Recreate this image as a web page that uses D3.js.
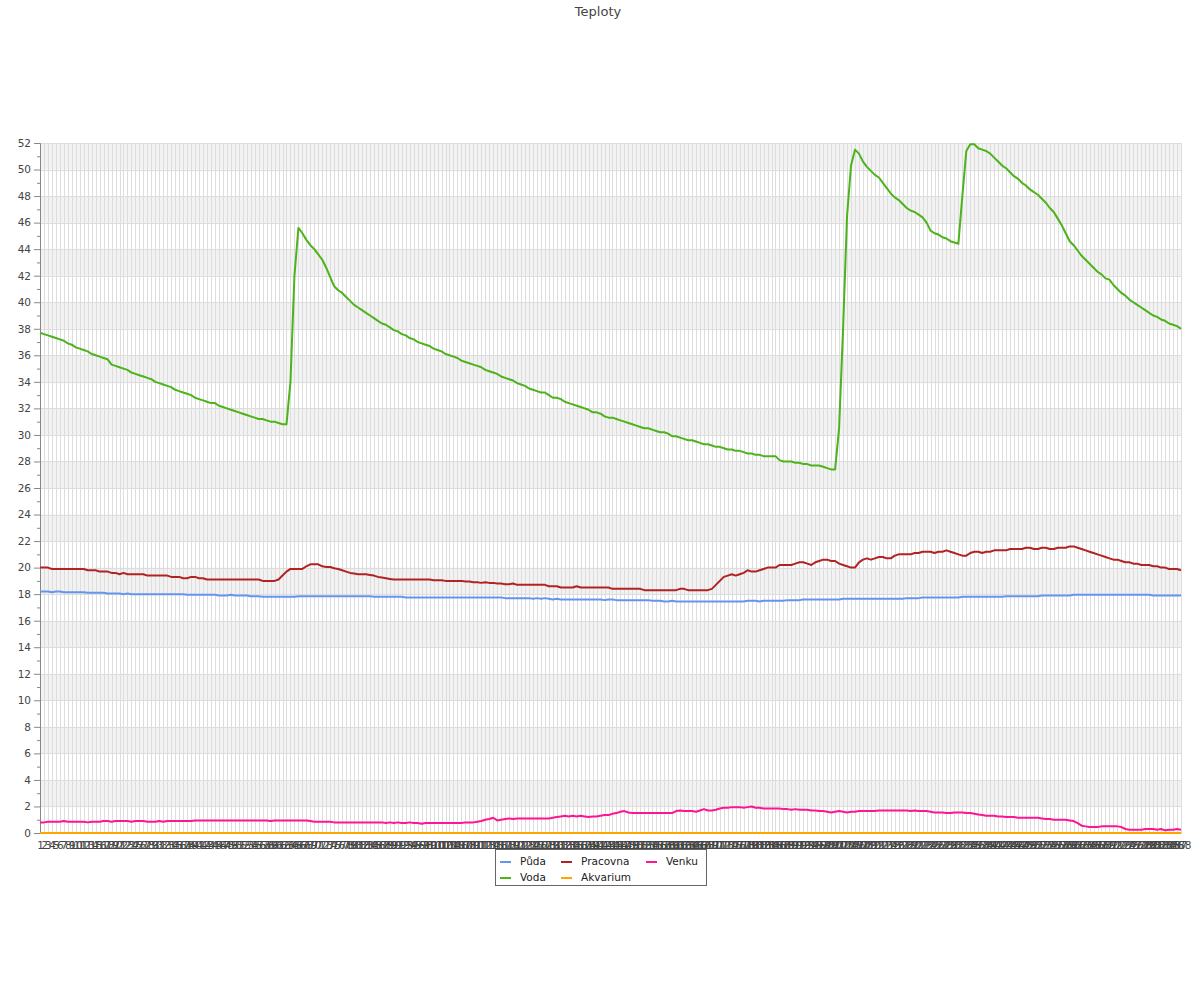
<!DOCTYPE html>
<html><head><meta charset="utf-8">
<script src="https://d3js.org/d3.v7.min.js"></script>
<style>body{margin:0;background:#fff;} svg{display:block;font-family:"DejaVu Sans",sans-serif;}</style>
</head><body><svg id="c" width="1200" height="1000"></svg>
<script>
const categories = [
1,2,3,4,5,6,7,8,9,10,11,12,13,14,15,16,17,18,19,20,21,22,23,24,25,26,27,28,29,30,
31,32,33,34,35,36,37,38,39,40,41,42,43,44,45,46,47,48,49,50,51,52,53,54,55,56,57,58,59,60,
61,62,63,64,65,66,67,68,69,70,71,72,73,74,75,76,77,78,79,80,81,82,83,84,85,86,87,88,89,90,
91,92,93,94,95,96,97,98,99,100,101,102,103,104,105,106,107,108,109,110,111,112,113,114,115,116,117,118,119,120,
121,122,123,124,125,126,127,128,129,130,131,132,133,134,135,136,137,138,139,140,141,142,143,144,145,146,147,148,149,150,
151,152,153,154,155,156,157,158,159,160,161,162,163,164,165,166,167,168,169,170,171,172,173,174,175,176,177,178,179,180,
181,182,183,184,185,186,187,188,189,190,191,192,193,194,195,196,197,198,199,200,201,202,203,204,205,206,207,208,209,210,
211,212,213,214,215,216,217,218,219,220,221,222,223,224,225,226,227,228,229,230,231,232,233,234,235,236,237,238,239,240,
241,242,243,244,245,246,247,248,249,250,251,252,253,254,255,256,257,258,259,260,261,262,263,264,265,266,267,268,269,270,
271,272,273,274,275,276,277,278,279,280,281,282,283,284,285,286,287,288];

const yTickValues = [0,2,4,6,8,10,12,14,16,18,20,22,24,26,28,30,32,34,36,38,40,42,44,46,48,50,52];

const seriesNames = ["Půda","Voda","Pracovna","Akvarium","Venku"];
const seriesColors = ["#6495ED","#4CB31A","#B22222","#FFA500","#FF1493"];

const puda = [
18.2,18.2,18.2,18.15,18.2,18.2,18.15,18.15,18.15,18.15,
18.15,18.15,18.1,18.1,18.1,18.1,18.1,18.05,18.05,18.05,
18.05,18.0,18.05,18.0,18.0,18.0,18.0,18.0,18.0,18.0,
18.0,18.0,18.0,18.0,18.0,18.0,18.0,17.95,17.95,17.95,
17.95,17.95,17.95,17.95,17.95,17.9,17.9,17.9,17.95,17.9,
17.9,17.9,17.9,17.85,17.85,17.85,17.8,17.8,17.8,17.8,
17.8,17.8,17.8,17.8,17.8,17.85,17.85,17.85,17.85,17.85,
17.85,17.85,17.85,17.85,17.85,17.85,17.85,17.85,17.85,17.85,
17.85,17.85,17.85,17.85,17.8,17.8,17.8,17.8,17.8,17.8,
17.8,17.8,17.75,17.75,17.75,17.75,17.75,17.75,17.75,17.75,
17.75,17.75,17.75,17.75,17.75,17.75,17.75,17.75,17.75,17.75,
17.75,17.75,17.75,17.75,17.75,17.75,17.75,17.7,17.7,17.7,
17.7,17.7,17.7,17.7,17.65,17.7,17.65,17.7,17.65,17.6,
17.65,17.6,17.6,17.6,17.6,17.6,17.6,17.6,17.6,17.6,
17.6,17.6,17.55,17.6,17.6,17.55,17.55,17.55,17.55,17.55,
17.55,17.55,17.55,17.55,17.5,17.5,17.5,17.45,17.45,17.5,
17.45,17.45,17.45,17.45,17.45,17.45,17.45,17.45,17.45,17.45,
17.45,17.45,17.45,17.45,17.45,17.45,17.45,17.45,17.5,17.5,
17.5,17.45,17.5,17.5,17.5,17.5,17.5,17.5,17.55,17.55,
17.55,17.55,17.6,17.6,17.6,17.6,17.6,17.6,17.6,17.6,
17.6,17.6,17.65,17.65,17.65,17.65,17.65,17.65,17.65,17.65,
17.65,17.65,17.65,17.65,17.65,17.65,17.65,17.65,17.7,17.7,
17.7,17.7,17.75,17.75,17.75,17.75,17.75,17.75,17.75,17.75,
17.75,17.75,17.8,17.8,17.8,17.8,17.8,17.8,17.8,17.8,
17.8,17.8,17.8,17.85,17.85,17.85,17.85,17.85,17.85,17.85,
17.85,17.85,17.9,17.9,17.9,17.9,17.9,17.9,17.9,17.9,
17.95,17.95,17.95,17.95,17.95,17.95,17.95,17.95,17.95,17.95,
17.95,17.95,17.95,17.95,17.95,17.95,17.95,17.95,17.95,17.95,
17.9,17.9,17.9,17.9,17.9,17.9,17.9,17.9];

const voda = [
37.7,37.6,37.5,37.4,37.3,37.2,37.1,36.9,36.8,36.6,
36.5,36.4,36.3,36.1,36.0,35.9,35.8,35.7,35.3,35.2,
35.1,35.0,34.9,34.7,34.6,34.5,34.4,34.3,34.2,34.0,
33.9,33.8,33.7,33.6,33.4,33.3,33.2,33.1,33.0,32.8,
32.7,32.6,32.5,32.4,32.4,32.2,32.1,32.0,31.9,31.8,
31.7,31.6,31.5,31.4,31.3,31.2,31.2,31.1,31.0,31.0,
30.9,30.8,30.8,34.0,42.0,45.6,45.2,44.7,44.3,44.0,
43.6,43.2,42.6,41.9,41.2,40.9,40.7,40.4,40.1,39.8,
39.6,39.4,39.2,39.0,38.8,38.6,38.4,38.3,38.1,37.9,
37.8,37.6,37.5,37.3,37.2,37.0,36.9,36.8,36.7,36.5,
36.4,36.3,36.1,36.0,35.9,35.8,35.6,35.5,35.4,35.3,
35.2,35.1,34.9,34.8,34.7,34.6,34.4,34.3,34.2,34.1,
33.9,33.8,33.7,33.5,33.4,33.3,33.2,33.2,33.0,32.8,
32.8,32.7,32.5,32.4,32.3,32.2,32.1,32.0,31.9,31.7,
31.7,31.6,31.4,31.3,31.3,31.2,31.1,31.0,30.9,30.8,
30.7,30.6,30.5,30.5,30.4,30.3,30.2,30.2,30.1,29.9,
29.9,29.8,29.7,29.6,29.6,29.5,29.4,29.3,29.3,29.2,
29.1,29.1,29.0,28.9,28.9,28.8,28.8,28.7,28.6,28.6,
28.5,28.5,28.4,28.4,28.4,28.4,28.1,28.0,28.0,28.0,
27.9,27.9,27.8,27.8,27.7,27.7,27.7,27.6,27.5,27.4,
27.4,30.5,38.0,46.5,50.3,51.5,51.2,50.6,50.2,49.9,
49.6,49.4,49.0,48.6,48.2,47.9,47.7,47.4,47.1,46.9,
46.8,46.6,46.4,46.0,45.4,45.2,45.1,44.9,44.8,44.6,
44.5,44.4,48.0,51.4,51.9,51.9,51.6,51.5,51.4,51.2,
50.9,50.6,50.3,50.1,49.8,49.5,49.3,49.0,48.8,48.5,
48.3,48.1,47.8,47.5,47.1,46.8,46.3,45.8,45.2,44.6,
44.3,43.9,43.5,43.2,42.9,42.6,42.3,42.1,41.8,41.7,
41.3,41.0,40.7,40.5,40.2,40.0,39.8,39.6,39.4,39.2,
39.0,38.9,38.7,38.6,38.4,38.3,38.2,38.0];

const pracovna = [
20.0,20.0,20.0,19.9,19.9,19.9,19.9,19.9,19.9,19.9,
19.9,19.9,19.8,19.8,19.8,19.7,19.7,19.7,19.6,19.6,
19.5,19.6,19.5,19.5,19.5,19.5,19.5,19.4,19.4,19.4,
19.4,19.4,19.4,19.3,19.3,19.3,19.2,19.2,19.3,19.3,
19.2,19.2,19.1,19.1,19.1,19.1,19.1,19.1,19.1,19.1,
19.1,19.1,19.1,19.1,19.1,19.1,19.0,19.0,19.0,19.0,
19.1,19.4,19.7,19.9,19.9,19.9,19.9,20.1,20.25,20.25,
20.25,20.1,20.05,20.05,19.95,19.9,19.8,19.7,19.6,19.55,
19.5,19.5,19.5,19.45,19.4,19.3,19.25,19.2,19.15,19.1,
19.1,19.1,19.1,19.1,19.1,19.1,19.1,19.1,19.1,19.05,
19.05,19.05,19.0,19.0,19.0,19.0,19.0,18.95,18.95,18.9,
18.9,18.85,18.9,18.85,18.85,18.8,18.8,18.75,18.75,18.8,
18.7,18.7,18.7,18.7,18.7,18.7,18.7,18.7,18.6,18.6,
18.6,18.5,18.5,18.5,18.5,18.6,18.5,18.5,18.5,18.5,
18.5,18.5,18.5,18.5,18.4,18.4,18.4,18.4,18.4,18.4,
18.4,18.4,18.3,18.3,18.3,18.3,18.3,18.3,18.3,18.3,
18.3,18.4,18.4,18.3,18.3,18.3,18.3,18.3,18.3,18.4,
18.7,19.0,19.3,19.4,19.5,19.4,19.5,19.6,19.8,19.7,
19.7,19.8,19.9,20.0,20.0,20.0,20.2,20.2,20.2,20.2,
20.3,20.4,20.4,20.3,20.2,20.4,20.5,20.6,20.6,20.5,
20.5,20.3,20.2,20.1,20.0,20.0,20.4,20.6,20.7,20.6,
20.7,20.8,20.8,20.7,20.7,20.9,21.0,21.0,21.0,21.0,
21.1,21.1,21.2,21.2,21.2,21.1,21.2,21.2,21.3,21.2,
21.1,21.0,20.9,20.9,21.1,21.2,21.2,21.1,21.2,21.2,
21.3,21.3,21.3,21.3,21.4,21.4,21.4,21.4,21.5,21.5,
21.4,21.4,21.5,21.5,21.4,21.4,21.5,21.5,21.5,21.6,
21.6,21.5,21.4,21.3,21.2,21.1,21.0,20.9,20.8,20.7,
20.6,20.6,20.5,20.4,20.4,20.3,20.3,20.2,20.2,20.2,
20.1,20.1,20.0,20.0,19.9,19.9,19.9,19.8];

const akvarium = [
0,0,0,0,0,0,0,0,0,0,0,0,0,0,0,0,0,0,0,0,0,0,0,0,0,0,0,0,0,0,
0,0,0,0,0,0,0,0,0,0,0,0,0,0,0,0,0,0,0,0,0,0,0,0,0,0,0,0,0,0,
0,0,0,0,0,0,0,0,0,0,0,0,0,0,0,0,0,0,0,0,0,0,0,0,0,0,0,0,0,0,
0,0,0,0,0,0,0,0,0,0,0,0,0,0,0,0,0,0,0,0,0,0,0,0,0,0,0,0,0,0,
0,0,0,0,0,0,0,0,0,0,0,0,0,0,0,0,0,0,0,0,0,0,0,0,0,0,0,0,0,0,
0,0,0,0,0,0,0,0,0,0,0,0,0,0,0,0,0,0,0,0,0,0,0,0,0,0,0,0,0,0,
0,0,0,0,0,0,0,0,0,0,0,0,0,0,0,0,0,0,0,0,0,0,0,0,0,0,0,0,0,0,
0,0,0,0,0,0,0,0,0,0,0,0,0,0,0,0,0,0,0,0,0,0,0,0,0,0,0,0,0,0,
0,0,0,0,0,0,0,0,0,0,0,0,0,0,0,0,0,0,0,0,0,0,0,0,0,0,0,0,0,0,
0,0,0,0,0,0,0,0,0,0,0,0,0,0,0,0,0,0];

const venku = [
0.8,0.8,0.85,0.85,0.85,0.85,0.9,0.85,0.85,0.85,
0.85,0.85,0.8,0.85,0.85,0.85,0.9,0.9,0.85,0.9,
0.9,0.9,0.9,0.85,0.9,0.9,0.9,0.85,0.85,0.85,
0.9,0.85,0.9,0.9,0.9,0.9,0.9,0.9,0.9,0.95,
0.95,0.95,0.95,0.95,0.95,0.95,0.95,0.95,0.95,0.95,
0.95,0.95,0.95,0.95,0.95,0.95,0.95,0.95,0.9,0.95,
0.95,0.95,0.95,0.95,0.95,0.95,0.95,0.95,0.9,0.85,
0.85,0.85,0.85,0.85,0.8,0.8,0.8,0.8,0.8,0.8,
0.8,0.8,0.8,0.8,0.8,0.8,0.8,0.75,0.8,0.75,
0.8,0.75,0.75,0.8,0.75,0.75,0.7,0.75,0.75,0.75,
0.75,0.75,0.75,0.75,0.75,0.75,0.75,0.8,0.8,0.8,
0.85,0.9,1.0,1.05,1.15,0.95,1.0,1.05,1.1,1.05,
1.1,1.1,1.1,1.1,1.1,1.1,1.1,1.1,1.1,1.15,
1.2,1.25,1.3,1.25,1.3,1.25,1.3,1.25,1.2,1.25,
1.25,1.3,1.35,1.35,1.45,1.5,1.6,1.65,1.55,1.5,
1.5,1.5,1.5,1.5,1.5,1.5,1.5,1.5,1.5,1.5,
1.65,1.7,1.65,1.65,1.65,1.6,1.7,1.8,1.7,1.7,
1.75,1.85,1.9,1.9,1.95,1.95,1.95,1.9,1.95,2.0,
1.9,1.9,1.85,1.85,1.85,1.85,1.85,1.8,1.8,1.75,
1.8,1.75,1.75,1.75,1.7,1.7,1.65,1.65,1.6,1.55,
1.6,1.65,1.6,1.55,1.6,1.6,1.65,1.65,1.65,1.65,
1.65,1.7,1.7,1.7,1.7,1.7,1.7,1.7,1.7,1.65,
1.7,1.65,1.65,1.65,1.6,1.55,1.55,1.55,1.5,1.5,
1.55,1.55,1.55,1.5,1.5,1.45,1.4,1.35,1.3,1.3,
1.3,1.25,1.25,1.2,1.2,1.2,1.15,1.15,1.15,1.15,
1.15,1.15,1.1,1.05,1.05,1.0,1.0,1.0,1.0,0.95,
0.9,0.75,0.55,0.5,0.45,0.45,0.45,0.5,0.5,0.5,
0.5,0.5,0.45,0.3,0.25,0.25,0.25,0.25,0.3,0.3,
0.3,0.25,0.3,0.2,0.25,0.25,0.3,0.25];

const seriesValues = [puda, voda, pracovna, akvarium, venku];

const svg = d3.select("#c");
const plotLeft = 40, plotRight = 1181, plotTop = 143, plotBottom = 833;
const x = d3.scalePoint().domain(categories).range([plotLeft, plotRight]);
const y = d3.scaleLinear().domain([0, 52]).range([plotBottom, plotTop]);
const crisp = v => Math.round(v) + 0.5;

// title
svg.append("text").attr("x", 598).attr("y", 16).attr("text-anchor", "middle")
  .attr("font-size", 13).attr("fill", "#444").text("Teploty");

// alternating bands
const bandStarts = yTickValues.filter(v => v % 4 === 2 && v < 52);
svg.append("g").selectAll("rect").data(bandStarts).join("rect")
  .attr("x", plotLeft).attr("width", plotRight - plotLeft)
  .attr("y", d => y(d + 2)).attr("height", d => y(d) - y(d + 2))
  .attr("fill", "#f2f2f2");

// vertical grid
svg.append("g").selectAll("line").data(categories).join("line")
  .attr("x1", d => crisp(x(d))).attr("x2", d => crisp(x(d)))
  .attr("y1", plotTop).attr("y2", plotBottom)
  .attr("stroke", "#dddddd").attr("stroke-width", 1);

// horizontal grid
svg.append("g").selectAll("line").data(yTickValues).join("line")
  .attr("x1", plotLeft).attr("x2", plotRight)
  .attr("y1", d => crisp(y(d))).attr("y2", d => crisp(y(d)))
  .attr("stroke", "#dddddd").attr("stroke-width", 1);

// y axis
const yAxis = svg.append("g").attr("transform", `translate(${crisp(plotLeft)-0.5},0)`)
  .call(d3.axisLeft(y).tickValues(yTickValues).tickSize(6).tickPadding(3).tickFormat(d3.format("d")));
yAxis.select(".domain").attr("stroke", "#888");
yAxis.selectAll(".tick line").attr("stroke", "#888");
yAxis.selectAll(".tick text").attr("fill", "#444").attr("font-size", 10.5).attr("font-family", "DejaVu Sans");
const minor = yTickValues.slice(0, -1).map(v => v + 1);
const yMinor = svg.append("g").attr("transform", `translate(${crisp(plotLeft)-0.5},0)`)
  .call(d3.axisLeft(y).tickValues(minor).tickSize(3).tickFormat(""));
yMinor.select(".domain").remove();
yMinor.selectAll(".tick line").attr("stroke", "#888");

// x axis
const xAxis = svg.append("g").attr("transform", `translate(0,${crisp(plotBottom)-0.5})`)
  .call(d3.axisBottom(x).tickSize(0).tickPadding(9));
xAxis.select(".domain").attr("stroke", "#888");
xAxis.selectAll(".tick text").attr("fill", "#444").attr("font-size", 10.5).attr("font-family", "DejaVu Sans");

// lines
const line = d3.line().x((d, i) => x(categories[i])).y(d => y(d));
svg.append("g").selectAll("path").data(seriesValues).join("path")
  .attr("d", d => line(d))
  .attr("fill", "none")
  .attr("stroke", (d, i) => seriesColors[i])
  .attr("stroke-width", 2)
  .attr("stroke-linejoin", "round");

// legend
const lg = svg.append("g");
lg.append("rect").attr("x", 495.5).attr("y", 849.5).attr("width", 211).attr("height", 36)
  .attr("fill", "#fff").attr("stroke", "#666");
const colX = [500, 561, 646];
const rowY = [861, 877];
seriesNames.forEach((name, i) => {
  const cx = colX[Math.floor(i / 2)], cy = rowY[i % 2];
  lg.append("line").attr("x1", cx).attr("x2", cx + 11).attr("y1", cy + 1).attr("y2", cy + 1)
    .attr("stroke", seriesColors[i]).attr("stroke-width", 2);
  lg.append("text").attr("x", cx + 20).attr("y", cy).attr("dy", "0.35em")
    .attr("font-size", 10.5).attr("fill", "#222").text(name);
});

// sanity check
seriesValues.forEach((s, i) => {
  if (s.length !== categories.length) svg.append("text").attr("x", 10).attr("y", 950 + i * 12)
    .attr("fill", "red").text(seriesNames[i] + " length " + s.length);
});
</script></body></html>
